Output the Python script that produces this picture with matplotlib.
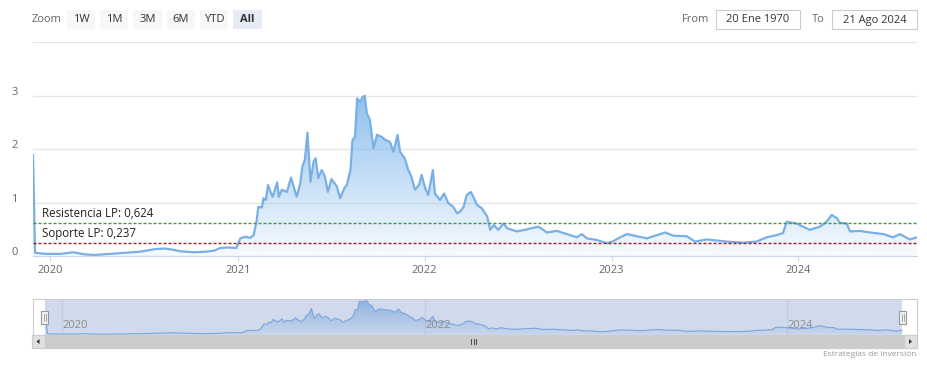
import numpy as np
import pandas as pd
import matplotlib
matplotlib.use("Agg")
import matplotlib.pyplot as plt
import matplotlib.dates as mdates
from matplotlib.colors import to_rgb
from matplotlib.patches import Rectangle, Polygon
from matplotlib.transforms import ScaledTranslation

plt.rcParams['font.family'] = ['Open Sans', 'DejaVu Sans']

# price history
dates = [
    "2019-11-28", "2019-12-02", "2019-12-22", "2020-01-22", "2020-02-14", "2020-03-09",
    "2020-03-28", "2020-04-27", "2020-05-30", "2020-06-24", "2020-07-24", "2020-08-12",
    "2020-08-26", "2020-09-10", "2020-10-06", "2020-10-29", "2020-11-16", "2020-11-28",
    "2020-12-13", "2020-12-29", "2021-01-06", "2021-01-15", "2021-01-25", "2021-02-01",
    "2021-02-07", "2021-02-10", "2021-02-17", "2021-02-20", "2021-02-25", "2021-03-01",
    "2021-03-06", "2021-03-10", "2021-03-14", "2021-03-19", "2021-03-22", "2021-03-28",
    "2021-04-07", "2021-04-15", "2021-04-20", "2021-04-26", "2021-05-03", "2021-05-07",
    "2021-05-12", "2021-05-17", "2021-05-20", "2021-05-23", "2021-05-29", "2021-06-02",
    "2021-06-07", "2021-06-14", "2021-06-20", "2021-06-26", "2021-07-03", "2021-07-13",
    "2021-07-20", "2021-07-28", "2021-08-02", "2021-08-09", "2021-08-13", "2021-08-18",
    "2021-08-22", "2021-08-28", "2021-09-02", "2021-09-06", "2021-09-10", "2021-09-16",
    "2021-09-23", "2021-09-30", "2021-10-09", "2021-10-17", "2021-10-25", "2021-11-01",
    "2021-11-09", "2021-11-14", "2021-11-23", "2021-11-30", "2021-12-06", "2021-12-13",
    "2021-12-21", "2021-12-26", "2022-01-02", "2022-01-08", "2022-01-17", "2022-01-21",
    "2022-01-31", "2022-02-08", "2022-02-16", "2022-02-26", "2022-03-05", "2022-03-11",
    "2022-03-18", "2022-03-24", "2022-04-01", "2022-04-06", "2022-04-13", "2022-04-23",
    "2022-05-03", "2022-05-09", "2022-05-16", "2022-05-25", "2022-06-04", "2022-06-11",
    "2022-06-30", "2022-07-20", "2022-08-11", "2022-08-28", "2022-09-16", "2022-10-06",
    "2022-10-25", "2022-11-04", "2022-11-14", "2022-12-03", "2022-12-23", "2023-01-05",
    "2023-01-18", "2023-01-31", "2023-02-19", "2023-03-11", "2023-03-30", "2023-04-16",
    "2023-05-02", "2023-05-28", "2023-06-13", "2023-07-06", "2023-08-14", "2023-09-15",
    "2023-10-11", "2023-10-31", "2023-11-19", "2023-12-02", "2023-12-09", "2023-12-28",
    "2024-01-10", "2024-01-23", "2024-02-12", "2024-02-25", "2024-03-06", "2024-03-16",
    "2024-03-22", "2024-04-04", "2024-04-11", "2024-04-30", "2024-05-20", "2024-06-15",
    "2024-07-04", "2024-07-17", "2024-08-06", "2024-08-19",
]
prices = [
    1.89, 0.06, 0.04, 0.04, 0.07, 0.03,
    0.02, 0.04, 0.06, 0.08, 0.13, 0.14,
    0.12, 0.09, 0.07, 0.08, 0.10, 0.15,
    0.16, 0.15, 0.33, 0.36, 0.34, 0.39,
    0.67, 0.92, 0.91, 1.08, 1.05, 1.33,
    1.20, 1.11, 1.22, 1.38, 1.11, 1.24,
    1.20, 1.47, 1.30, 1.11, 1.36, 1.67,
    1.80, 2.31, 1.86, 1.39, 1.77, 1.83,
    1.46, 1.61, 1.49, 1.20, 1.44, 1.31,
    1.08, 1.27, 1.33, 1.61, 2.17, 2.23,
    2.95, 2.89, 2.98, 3.00, 2.67, 2.55,
    2.02, 2.27, 2.23, 2.17, 2.14, 1.95,
    2.27, 1.95, 1.83, 1.61, 1.49, 1.24,
    1.33, 1.52, 1.27, 1.14, 1.61, 1.17,
    1.05, 1.17, 0.99, 0.92, 0.80, 0.83,
    0.92, 1.14, 1.20, 1.11, 0.96, 0.89,
    0.74, 0.49, 0.58, 0.49, 0.61, 0.52,
    0.46, 0.50, 0.55, 0.44, 0.47, 0.41,
    0.35, 0.41, 0.33, 0.30, 0.24, 0.28,
    0.35, 0.41, 0.37, 0.33, 0.39, 0.44,
    0.38, 0.37, 0.27, 0.31, 0.27, 0.25,
    0.27, 0.35, 0.39, 0.43, 0.64, 0.61,
    0.55, 0.49, 0.55, 0.64, 0.77, 0.71,
    0.62, 0.61, 0.46, 0.47, 0.44, 0.41,
    0.35, 0.41, 0.31, 0.35,
]

resistance = 0.624
support = 0.237
year_labels = ["2020", "2021", "2022", "2023", "2024"]
nav_labels = ["2020", "2022", "2024"]
zoom_buttons = ["1W", "1M", "3M", "6M", "YTD", "All"]
date_from = "20 Ene 1970"
date_to = "21 Ago 2024"

t = mdates.date2num(pd.to_datetime(dates))
p = np.array(prices)

W, H = 927, 367
fig = plt.figure(figsize=(W / 100, H / 100), dpi=100)
fig.patch.set_facecolor("white")


def gradient_area(ax, x, y, color, a_top, a_bottom, base=0):
    # fill under the curve with a vertical fade, clipped to the area shape
    poly = ax.fill_between(x, y, base, color="none", lw=0)
    grad = np.zeros((256, 1, 4))
    grad[:, :, :3] = to_rgb(color)
    grad[:, 0, 3] = np.linspace(a_top, a_bottom, 256)
    im = ax.imshow(grad, extent=[x[0], x[-1], base, y.max()], aspect="auto",
                   origin="upper", zorder=1)
    im.set_clip_path(poly.get_paths()[0], transform=ax.transData)


# main chart
ax = fig.add_axes([33 / W, 1 - 256 / H, (916.7 - 33) / W, (256 - 42.4) / H])
gradient_area(ax, t, p, "#7cb5ec", 0.85, 0.06)
ax.plot(t, p, color="#78b0e6", lw=1.6, zorder=3)
ax.set_xlim(t[0], t[-1])
ax.set_ylim(0, 4)

ax.axhline(resistance, color="#3f9a3f", lw=1.0, ls=(0, (2.2, 1.4)), zorder=4)
ax.axhline(support, color="#a51f1f", lw=1.0, ls=(0, (2.2, 1.4)), zorder=4)
lbl_tr = ax.get_yaxis_transform() + ScaledTranslation(0.09, 0.03, fig.dpi_scale_trans)
ax.text(0, resistance, "Resistencia LP: " + f"{resistance:.3f}".replace(".", ","),
        transform=lbl_tr, fontsize=8.3, color="#222222", va="bottom", zorder=5)
ax.text(0, support, "Soporte LP: " + f"{support:.3f}".replace(".", ","),
        transform=lbl_tr, fontsize=8.3, color="#222222", va="bottom", zorder=5)

ax.set_yticks([0, 1, 2, 3, 4])
ax.set_yticklabels(["0", "1", "2", "3", ""])
ax.grid(axis="y", color="#e6e6e6", lw=1)
ax.set_axisbelow(True)
ax.set_xticks(mdates.date2num(pd.to_datetime(year_labels)))
ax.set_xticklabels(year_labels)
ax.tick_params(axis="y", length=0, pad=11, labelsize=8, labelcolor="#666666")
ax.tick_params(axis="x", length=3.6, width=0.8, color="#ccd6eb", pad=3,
               labelsize=8, labelcolor="#666666")
for lab in ax.get_yticklabels():
    lab.set_transform(lab.get_transform() + ScaledTranslation(0, 0.05, fig.dpi_scale_trans))
for side in ["top", "left", "right"]:
    ax.spines[side].set_visible(False)
ax.spines["bottom"].set_color("#ccd6eb")
ax.patch.set_alpha(0)

# navigator
nav = fig.add_axes([33 / W, 1 - 335 / H, (916.7 - 33) / W, 36 / H])
nav.axvspan(t[0], t[-1], color=(0.4, 0.52, 0.76, 0.3), lw=0, zorder=0)
for yr in nav_labels:
    xd = mdates.date2num(pd.Timestamp(yr))
    nav.axvline(xd, color="#c2cadc", lw=0.8, zorder=0.5)
    nav.text(xd, 0.25, yr, transform=nav.get_xaxis_transform(), fontsize=8,
             color="#8c8c8c", va="center", ha="left", zorder=5)
gradient_area(nav, t, p, "#7aa6de", 0.75, 0.1)
nav.plot(t, p, color="#7aa6de", lw=0.8, zorder=3)
nav.set_xlim(t[0] - 25, t[-1] + 30)
nav.set_ylim(-0.05, 3.15)
nav.set_xticks([])
nav.set_yticks([])
for sp in nav.spines.values():
    sp.set_color("#cccccc")
    sp.set_linewidth(0.8)

# overlay in pixel coordinates for the range selector and scrollbar
ov = fig.add_axes([0, 0, 1, 1])
ov.set_xlim(0, W)
ov.set_ylim(H, 0)
ov.axis("off")
ov.patch.set_alpha(0)

ov.text(32, 20, "Zoom", fontsize=8, color="#666666", va="center", ha="left")
for i, b in enumerate(zoom_buttons):
    x0 = 66.7 + i * 33.3
    sel = b == "All"
    ov.add_patch(Rectangle((x0, 10), 28.5, 19, fc="#e6ebf5" if sel else "#f7f7f7", ec="none"))
    ov.text(x0 + 14.25, 20, b, fontsize=8, color="#333333", ha="center", va="center",
            fontweight="bold" if sel else "normal")

ov.text(682, 20, "From", fontsize=8, color="#666666", va="center", ha="left")
ov.add_patch(Rectangle((716, 10), 84, 19, fc="white", ec="#cccccc", lw=0.8))
ov.text(758, 20, date_from, fontsize=8, color="#333333", ha="center", va="center")
ov.text(812, 20, "To", fontsize=8, color="#666666", va="center", ha="left")
ov.add_patch(Rectangle((832, 10), 85, 19, fc="white", ec="#cccccc", lw=0.8))
ov.text(874.5, 20, date_to, fontsize=8, color="#333333", ha="center", va="center")

# navigator handles
for hx in [41.5, 899.5]:
    ov.add_patch(Rectangle((hx, 311), 7, 13, fc="#f2f2f2", ec="#999999", lw=0.8))
    for dx in [2.5, 4.5]:
        ov.plot([hx + dx, hx + dx], [314, 321], color="#999999", lw=0.6)

# scrollbar
ov.add_patch(Rectangle((32, 335), 884.7, 13, fc="#f2f2f2", ec="#cccccc", lw=0.8))
ov.add_patch(Rectangle((45, 335), 858, 13, fc="#cccccc", ec="#cccccc", lw=0.8))
ov.add_patch(Rectangle((32, 335), 13, 13, fc="#e0e0e0", ec="#cccccc", lw=0.8))
ov.add_patch(Rectangle((903.7, 335), 13, 13, fc="#e0e0e0", ec="#cccccc", lw=0.8))
ov.add_patch(Polygon([[36.5, 341.5], [39.5, 339], [39.5, 344]], fc="#333333", ec="none"))
ov.add_patch(Polygon([[912, 341.5], [909, 339], [909, 344]], fc="#333333", ec="none"))
for rx in [471.5, 474, 476.5]:
    ov.plot([rx, rx], [339, 344], color="#333333", lw=0.6)

ov.text(916, 354, "Estrategias de Inversión", fontsize=6, color="#999999",
        ha="right", va="center")

fig.savefig("out.png", dpi=100)
